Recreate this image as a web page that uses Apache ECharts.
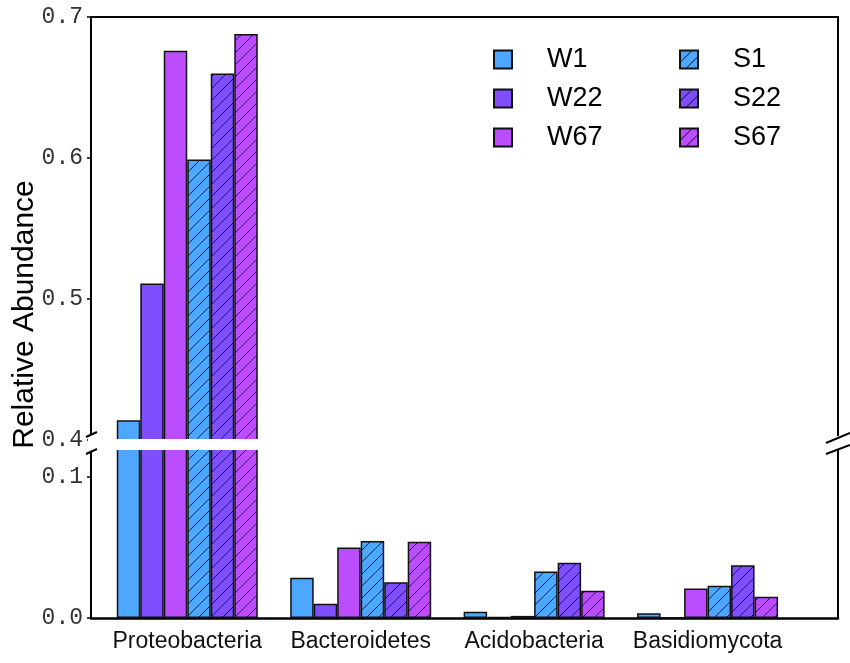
<!DOCTYPE html>
<html>
<head>
<meta charset="utf-8">
<script src="https://cdn.jsdelivr.net/npm/echarts@6/dist/echarts.min.js"></script>
<style>html,body{margin:0;padding:0;background:#fff}#c{width:850px;height:663px}</style>
</head>
<body>
<div id="c"></div>
<script>
const categories = ['Proteobacteria', 'Bacteroidetes', 'Acidobacteria', 'Basidiomycota'];
const seriesNames = ['W1', 'W22', 'W67', 'S1', 'S22', 'S67'];
const W1  = [0.414, 0.0286, 0.0045, 0.0033];
const W22 = [0.511, 0.0102, 0.0006, 0.0004];
const W67 = [0.676, 0.0501, 0.0015, 0.0210];
const S1  = [0.599, 0.0546, 0.0331, 0.0229];
const S22 = [0.660, 0.0253, 0.0392, 0.0374];
const S67 = [0.688, 0.0541, 0.0194, 0.0151];
const upperTicks = [0.4, 0.5, 0.6, 0.7];
const lowerTicks = [0.0, 0.1];

const values = [W1, W22, W67, S1, S22, S67];
const baseColors = ['#4DA6FF', '#7F4FFF', '#BB4DFF', '#4DA6FF', '#7F4FFF', '#BB4DFF'];
const hatched = [false, false, false, true, true, true];

// layout
const L = 91, R = 838, T = 17, B = 618, U = 440, D = 449;
const W = 850;

function makeFill(color, hatch) {
  if (!hatch) return color;
  const s = 12;
  const cv = document.createElement('canvas');
  cv.width = s; cv.height = s;
  const ctx = cv.getContext('2d');
  ctx.fillStyle = color;
  ctx.fillRect(0, 0, s, s);
  ctx.strokeStyle = '#000';
  ctx.lineWidth = 0.9;
  ctx.beginPath();
  ctx.moveTo(0, s); ctx.lineTo(s, 0);
  ctx.moveTo(-2, 2); ctx.lineTo(2, -2);
  ctx.moveTo(s - 2, s + 2); ctx.lineTo(s + 2, s - 2);
  ctx.stroke();
  return { image: cv, repeat: 'repeat' };
}

const chart = echarts.init(document.getElementById('c'), null, { renderer: 'canvas' });

const tickFont = { fontFamily: 'Liberation Mono', fontSize: 23, color: '#333' };
const xMin = -0.555, xMax = 3.752;

function makeSeries(gridIdx) {
  return values.map((arr, i) => ({
    name: seriesNames[i],
    type: 'bar',
    xAxisIndex: gridIdx,
    yAxisIndex: gridIdx * 2,
    barWidth: 23.5,
    barGap: '0%',
    clip: true,
    data: arr.map((v, k) => [k, v]),
    itemStyle: {
      color: makeFill(baseColors[i], hatched[i]),
      borderColor: '#111',
      borderWidth: 1.5
    },
    emphasis: { disabled: true },
    animation: false
  }));
}

const axisLineStyle = { color: '#000', width: 2 };

function makeLegend(names, left) {
  return {
    data: names, orient: 'vertical', left: left, top: 46, padding: 0,
    itemWidth: 18, itemHeight: 18, itemGap: 12, icon: 'rect',
    textStyle: { fontFamily: 'Liberation Sans', fontSize: 27, lineHeight: 26, color: '#000', padding: [0, 0, 0, 30] },
    selectedMode: false
  };
}

const option = {
  animation: false,
  grid: [
    { left: L, right: W - R, top: T, height: U - T },
    { left: L, right: W - R, top: D, height: B - D }
  ],
  xAxis: [
    {
      type: 'value', gridIndex: 0, min: xMin, max: xMax, position: 'top',
      axisLine: { show: true, onZero: false, lineStyle: axisLineStyle },
      axisTick: { show: false }, axisLabel: { show: false }, splitLine: { show: false }
    },
    {
      type: 'value', gridIndex: 1, min: xMin, max: xMax, position: 'bottom',
      axisLine: { show: true, onZero: false, lineStyle: { color: '#000', width: 2.5 } },
      axisTick: { show: false },
      splitLine: { show: false },
      axisLabel: {
        customValues: categories.map((c, i) => i),
        formatter: v => categories[Math.round(v)] || '',
        fontFamily: 'Liberation Sans', fontSize: 23, color: '#111', margin: 12
      }
    }
  ],
  yAxis: [
    {
      type: 'value', gridIndex: 0, min: 0.4, max: 0.7, position: 'left',
      axisLine: { show: true, onZero: false, lineStyle: axisLineStyle },
      axisTick: { show: true, length: 4, customValues: upperTicks, lineStyle: { color: '#000', width: 1.5 } },
      axisLabel: { customValues: upperTicks, formatter: v => v.toFixed(1), margin: 8, ...tickFont },
      splitLine: { show: false }
    },
    {
      type: 'value', gridIndex: 0, min: 0.4, max: 0.7, position: 'right',
      axisLine: { show: true, onZero: false, lineStyle: axisLineStyle },
      axisTick: { show: false }, axisLabel: { show: false }, splitLine: { show: false }
    },
    {
      type: 'value', gridIndex: 1, min: 0, max: 0.12, position: 'left',
      axisLine: { show: true, onZero: false, lineStyle: axisLineStyle },
      axisTick: { show: true, length: 4, customValues: lowerTicks, lineStyle: { color: '#000', width: 1.5 } },
      axisLabel: { customValues: lowerTicks, formatter: v => v.toFixed(1), margin: 8, ...tickFont },
      splitLine: { show: false }
    },
    {
      type: 'value', gridIndex: 1, min: 0, max: 0.12, position: 'right',
      axisLine: { show: true, onZero: false, lineStyle: axisLineStyle },
      axisTick: { show: false }, axisLabel: { show: false }, splitLine: { show: false }
    }
  ],
  legend: [makeLegend(seriesNames.slice(0, 3), 493), makeLegend(seriesNames.slice(3), 679)],
  graphic: [
    { type: 'rect', z: 100, shape: { x: L - 3, y: U - 1, width: R - L + 6, height: D - U + 2 }, style: { fill: '#fff' } },
    { type: 'rect', z: 100, shape: { x: L - 3, y: U - 6, width: 6, height: D - U + 9 }, style: { fill: '#fff' } },
    { type: 'rect', z: 100, shape: { x: R - 3, y: U - 4, width: 6, height: D - U + 5 }, style: { fill: '#fff' } },
    { type: 'line', z: 101, shape: { x1: L - 5, y1: U - 3, x2: L + 6, y2: U - 8 }, style: { stroke: '#000', lineWidth: 2 } },
    { type: 'line', z: 101, shape: { x1: L - 5, y1: D + 5, x2: L + 6, y2: D }, style: { stroke: '#000', lineWidth: 2 } },
    { type: 'line', z: 101, shape: { x1: R - 12, y1: U + 3, x2: R + 12, y2: U - 7 }, style: { stroke: '#000', lineWidth: 2 } },
    { type: 'line', z: 101, shape: { x1: R - 12, y1: D + 5, x2: R + 12, y2: D - 4 }, style: { stroke: '#000', lineWidth: 2 } },
    {
      type: 'text', z: 101, x: 25, y: (T + B) / 2 - 3, rotation: Math.PI / 2,
      style: {
        text: 'Relative Abundance', fontFamily: 'Liberation Sans', fontSize: 30,
        fill: '#000', align: 'center', verticalAlign: 'middle'
      }
    }
  ],
  series: [...makeSeries(0), ...makeSeries(1)]
};

chart.setOption(option);
</script>
</body>
</html>
